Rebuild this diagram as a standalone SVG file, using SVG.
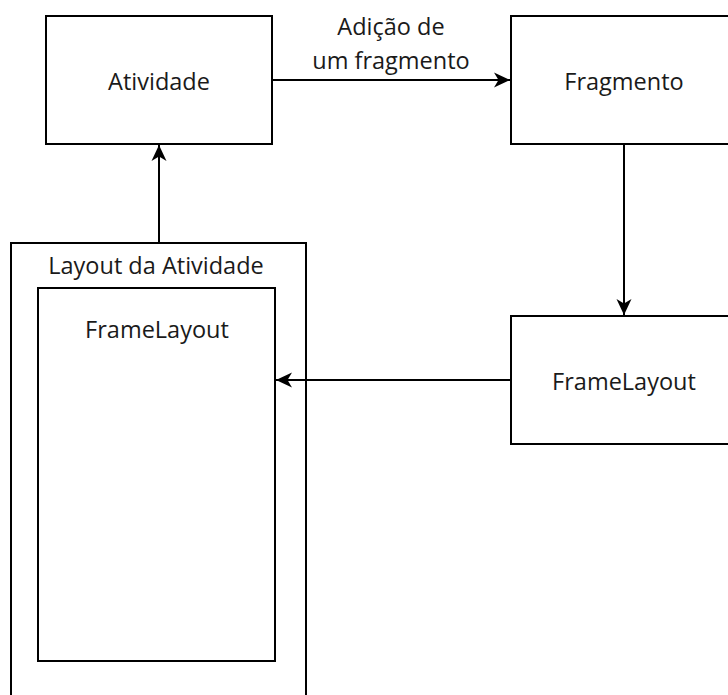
<svg xmlns="http://www.w3.org/2000/svg" width="728" height="695" viewBox="0 0 728 695">
<style>
.box{fill:#fff;stroke:#000;stroke-width:2}
.t{font-family:"Open Sans","Noto Sans",sans-serif;font-size:23.5px;fill:#1a1a1a;text-anchor:middle}
.c{fill:none;stroke:#000;stroke-width:2}
</style>
<defs>
<marker id="arr" markerUnits="userSpaceOnUse" markerWidth="17" markerHeight="16" refX="16" refY="8" orient="auto">
<path d="M0,0.5 L16,8 L0,15.5 L4.5,8 Z" fill="#000"/>
</marker>
</defs>
<rect width="728" height="695" fill="#fff"/>
<g id="layout-atividade">
<rect class="box" x="11" y="243" width="295" height="470"/>
<text class="t" x="156" y="274">Layout da Atividade</text>
</g>
<g id="framelayout-inner">
<rect class="box" x="38" y="288" width="237" height="373"/>
<text class="t" x="157" y="338">FrameLayout</text>
</g>
<g id="atividade">
<rect class="box" x="46" y="16" width="226" height="128"/>
<text class="t" x="159" y="90">Atividade</text>
</g>
<g id="fragmento">
<rect class="box" x="511" y="16" width="226" height="128"/>
<text class="t" x="624" y="90">Fragmento</text>
</g>
<g id="framelayout-right">
<rect class="box" x="511" y="316" width="226" height="128"/>
<text class="t" x="624" y="390">FrameLayout</text>
</g>
<g id="connectors">
<line class="c" x1="272" y1="80" x2="510" y2="80" marker-end="url(#arr)"/>
<text class="t" x="391" y="35">Adição de</text>
<text class="t" x="391" y="69">um fragmento</text>
<line class="c" x1="624" y1="144" x2="624" y2="315" marker-end="url(#arr)"/>
<line class="c" x1="511" y1="380" x2="276" y2="380" marker-end="url(#arr)"/>
<line class="c" x1="159" y1="243" x2="159" y2="145" marker-end="url(#arr)"/>
</g>
</svg>
